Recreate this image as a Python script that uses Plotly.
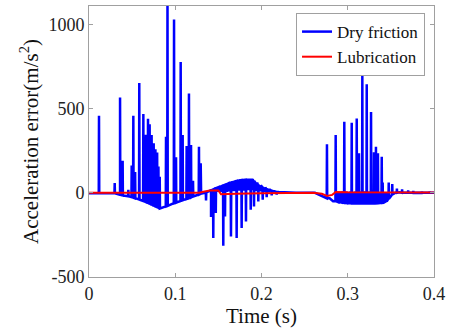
import plotly.graph_objects as go

# ---- Dry friction: smooth underlying trace (time s, value m/s^2) ----
base_t = [0.000, 0.030, 0.036, 0.047, 0.059, 0.0707, 0.0823, 0.100, 0.115, 0.130,
          0.1415, 0.152, 0.165, 0.178, 0.189, 0.195, 0.200, 0.205, 0.210, 0.215,
          0.220, 0.230, 0.240, 0.262, 0.268, 0.274, 0.279, 0.283, 0.290, 0.300,
          0.340, 0.345, 0.350, 0.355, 0.360, 0.370, 0.380, 0.390, 0.400]
base_v = [-3, -3, -12, -22, -41, -65, -93, -60, -33, -5,
          15, 38, 62, 77, 78, 60, 40, 28, 18, 10,
          5, 2, 0, 0, -15, -28, -32, -50, -58, -63,
          -63, -55, -20, 0, 3, 2, 1, 0, 0]

# ---- Dry friction: impulsive spikes (time, peak value, value at spike foot) ----
spike_t = [0.0116, 0.0298, 0.0360, 0.0390, 0.0456, 0.0495, 0.0514, 0.0535, 0.0583, 0.0630,
           0.0660, 0.0684, 0.0703, 0.0726, 0.0750, 0.0770, 0.0790, 0.0805, 0.0820, 0.0893,
           0.0910, 0.0986, 0.1009, 0.1063, 0.1086, 0.1132, 0.1159, 0.1183, 0.1206, 0.1275,
           0.1295,
           0.1357, 0.1415, 0.1441, 0.1470, 0.1500, 0.1530, 0.1557, 0.1577, 0.1600, 0.1620,
           0.1646, 0.1670, 0.1690, 0.1712, 0.1740, 0.1770, 0.1795, 0.1820, 0.1845, 0.1875,
           0.1895, 0.1913, 0.1940, 0.1963, 0.1990, 0.2014, 0.2035, 0.2060, 0.2085, 0.2118,
           0.2140, 0.2176,
           0.2759, 0.2860, 0.2885, 0.2910, 0.2935, 0.2960, 0.2985, 0.3010, 0.3025, 0.3046,
           0.3070, 0.3085, 0.3104, 0.3130, 0.3145, 0.3169, 0.3195, 0.3220, 0.3245, 0.3270,
           0.3304, 0.3327, 0.3350, 0.3365, 0.3394, 0.3405, 0.3425, 0.3450, 0.3475, 0.3516,
           0.3570, 0.3630, 0.3700, 0.3760, 0.3860, 0.3950]
spike_peak = [458, 59, 566, 190, 18, 162, 458, 124, 653, 468,
              345, 440, 408, 343, 294, 259, 239, 156, 96, 333,
              1180, 1030, 211, 777, 343, 278, 590, 284, 71, 274,
              176,
              -45, -144, -268, -120, 5, 5, -315, -140, 5, 8,
              -259, 10, 10, -268, 12, -209, 12, -170, 15, -101,
              15, -81, 10, -51, 8, -41, 5, -26, 3, -15,
              2, -10,
              288, 343, 5, 5, 8, 422, 8, 5, 8, 416,
              5, 8, 442, 235, 8, 699, 10, 645, 8, 481,
              241, 274, 235, 5, 215, 61, 5, 5, 61, 53,
              25, 20, 15, 12, 8, 8]
spike_foot = [-3, -3, -12, -15, -20, -25, -28, -32, -40, -48,
              -54, -60, -64, -70, -76, -81, -86, -89, -93, -80,
              -77, -62, -58, -48, -44, -36, -31, -27, -22, -10,
              -7,
              2, 15, 20, 28, 33, 38, 45, 48, 52, 56,
              60, 64, 67, 70, 73, 76, 77, 78, 78, 78,
              78, 70, 55, 45, 38, 32, 26, 22, 18, 13,
              10, 6,
              -32, -50, -54, -56, -58, -60, -61, -62, -62, -63,
              -63, -63, -63, -63, -63, -63, -63, -63, -63, -63,
              -63, -63, -62, -61, -60, -58, -55, -50, -35, -10,
              0, 0, 0, 0, 0, 0]

# ---- Lubrication trace ----
lub_t = [0.000, 0.128, 0.134, 0.140, 0.150, 0.153, 0.170, 0.200, 0.260, 0.270,
         0.276, 0.282, 0.286, 0.300, 0.400]
lub_v = [0, 0, 8, 14, 14, -8, -6, -2, 0, -6,
         -18, -12, 5, 3, 2]

x_tick_vals = [0, 0.1, 0.2, 0.3, 0.4]
x_tick_text = ["0", "0.1", "0.2", "0.3", "0.4"]
y_tick_vals = [-500, 0, 500, 1000]
y_tick_text = ["-500", "0", "500", "1000"]

# assemble dry-friction series from the smooth trace and the spikes
half_w = 0.0003
pts = list(zip(base_t, base_v))
for t, p, f in zip(spike_t, spike_peak, spike_foot):
    pts += [(t - half_w, f), (t, p), (t + half_w, f)]
pts.sort(key=lambda q: q[0])
dry_t = [q[0] for q in pts]
dry_v = [q[1] for q in pts]

FONT = "Liberation Serif, Times New Roman, serif"

fig = go.Figure()
fig.add_trace(go.Scatter(x=dry_t, y=dry_v, mode="lines", name="Dry friction",
                         line=dict(color="#0000FF", width=2.5)))
fig.add_trace(go.Scatter(x=lub_t, y=lub_v, mode="lines", name="Lubrication",
                         line=dict(color="#FF0000", width=2)))

axis_common = dict(showline=True, linecolor="#a0a0a0", linewidth=1, mirror="ticks",
                   ticks="inside", ticklen=4, tickcolor="#a0a0a0", showgrid=False,
                   zeroline=False, tickfont=dict(family=FONT, size=18, color="#222"))

fig.update_layout(
    width=450, height=333,
    font=dict(family=FONT, size=18, color="#222"),
    margin=dict(l=89, r=16, t=6, b=56),
    paper_bgcolor="white", plot_bgcolor="white",
    showlegend=True,
    legend=dict(x=0.974, y=0.974, xanchor="right", yanchor="top",
                bgcolor="white", bordercolor="#a0a0a0", borderwidth=1,
                font=dict(family=FONT, size=17, color="#111"),
                tracegroupgap=0, itemwidth=30),
    xaxis=dict(range=[0, 0.4], tickvals=x_tick_vals, ticktext=x_tick_text,
               title=dict(text="Time (s)", font=dict(family=FONT, size=21, color="#111"),
                          standoff=2),
               **axis_common),
    yaxis=dict(range=[-500, 1110], tickvals=y_tick_vals, ticktext=y_tick_text,
               title=dict(text="Acceleration error(m/s<sup>2</sup>)",
                          font=dict(family=FONT, size=21, color="#111"), standoff=4),
               **axis_common),
)

fig.write_html("out.html")
